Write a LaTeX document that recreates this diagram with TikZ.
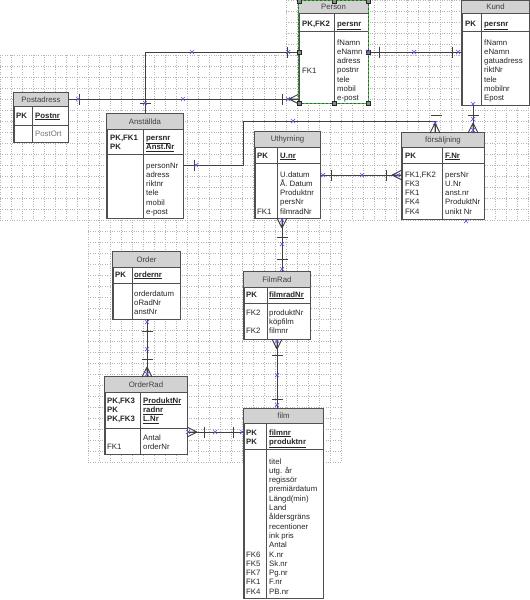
\documentclass[tikz,border=0pt]{standalone}
\usepackage{fontspec}
\setmainfont{Liberation Sans}
\usetikzlibrary{fit}

\definecolor{tblline}{HTML}{505050}
\definecolor{hdrgray}{HTML}{D2D2D2}
\definecolor{gridgray}{HTML}{B4B4B4}
\definecolor{markblue}{HTML}{5A5AE6}
\definecolor{selgreen}{HTML}{22CC22}

\tikzset{
  tblbox/.style={draw=tblline, fill=white, line width=0.9pt, inner sep=0pt},
  tblline/.style={draw=tblline, line width=0.9pt},
  hdrtext/.style={font=\fontsize{7.8}{9.3}\selectfont, text=black!75, inner sep=0pt},
  fld/.style={font=\fontsize{7.8}{9.3}\selectfont, text=black!85, inner sep=0pt, align=left, anchor=base west},
  conn/.style={draw=black!75, line width=0.9pt},
  gridline/.style={draw=gridgray, line width=0.4pt, dash pattern=on 0.8pt off 1.6pt},
  bx/.pic={\draw[draw=markblue, line width=0.7pt] (-2,-2) -- (2,2) (-2,2) -- (2,-2);},
  hdl/.pic={\draw[fill=black!45, draw=black!85, line width=0.5pt] (-2.2,-2.2) rectangle (2.2,2.2);},
  tick/.pic={\draw[conn] (0,-5.5) -- (0,5.5);},
  crow/.pic={\draw[conn] (0,0) -- (10,-5) (0,0) -- (10,0) (0,0) -- (10,5);},
}

% #1 name, #2 left, #3 top, #4 right, #5 header bottom, #6 key bottom, #7 bottom, #8 divider, #9 title
\newcommand{\ertab}[9]{%
  \coordinate (#1-nw) at (#2,#3);
  \coordinate (#1-se) at (#4,#7);
  \node[tblbox, fit=(#1-nw)(#1-se)] (#1) {};
  \fill[hdrgray] (#2,#3) rectangle (#4,#5);
  \draw[tblline] (#2,#5) -- (#4,#5) (#2,#6) -- (#4,#6) (#8,#5) -- (#8,#7);
  \draw[tblline] (#1.north west) rectangle (#1.south east);
  \node[hdrtext] (#1-title) at ({(#2+#4)/2},{(#3+#5)/2}) {#9};
}

\begin{document}
\begin{tikzpicture}[x=1pt,y=-1pt]
  \useasboundingbox (0,0) rectangle (530,600);
  \fill[white] (0,0) rectangle (530,600);

  % grid
  \foreach \gx in {0,11,...,528} \draw[gridline] (\gx,55) -- (\gx,220);
  \foreach \gy in {55,66,...,220} \draw[gridline] (0,\gy) -- (530,\gy);
  \foreach \gx in {286,297,...,462} \draw[gridline] (\gx,0) -- (\gx,55);
  \foreach \gy in {0,11,...,55} \draw[gridline] (286,\gy) -- (462,\gy);
  \foreach \gx in {88,99,...,341} \draw[gridline] (\gx,220) -- (\gx,462);
  \foreach \gy in {231,242,...,462} \draw[gridline] (88,\gy) -- (341,\gy);

  % tables
  \ertab{person}{299}{1}{368}{13}{31}{103}{334}{Person}
  \ertab{kund}{462}{1}{529}{13}{31}{105}{481}{Kund}
  \ertab{postadr}{14}{93}{68}{106}{125}{142}{32}{Postadress}
  \ertab{anst}{107}{114}{183}{129}{154}{218}{143}{Anställda}
  \ertab{uthyr}{255}{132}{320}{147}{163}{218}{277}{Uthyrning}
  \ertab{forsalj}{402}{133}{484}{147}{163}{219}{442}{försäljning}
  \ertab{order}{113}{252}{180}{267}{283}{319}{132}{Order}
  \ertab{filmrad}{244}{272}{310}{287}{303}{339}{267}{FilmRad}
  \ertab{orderrad}{105}{377}{187}{392}{428}{454}{140}{OrderRad}
  \ertab{film}{244}{409}{323}{423}{449}{598}{266}{film}

  % fields (placed at the baseline of their last line)
  \node[fld] (person-pk) at (302,26) {\textbf{PK,FK2}};
  \node[fld] (person-key) at (337,26) {\underline{\textbf{persnr}}};
  \node[fld] (person-attr) at (337,100.8) {fNamn\\eNamn\\adress\\postnr\\tele\\mobil\\e-post};
  \node[fld] (person-fk) at (302,73) {FK1};

  \node[fld] (kund-pk) at (465,26) {\textbf{PK}};
  \node[fld] (kund-key) at (484,26) {\underline{\textbf{persnr}}};
  \node[fld] (kund-attr) at (484,100.8) {fNamn\\eNamn\\gatuadress\\riktNr\\tele\\mobilnr\\Epost};

  \node[fld] (postadr-pk) at (16,118) {\textbf{PK}};
  \node[fld] (postadr-key) at (35,118) {\underline{\textbf{Postnr}}};
  \node[fld, text=black!55] (postadr-attr) at (35,136) {PostOrt};

  \node[fld] (anst-pk) at (110,149.3) {\textbf{PK,FK1}\\\textbf{PK}};
  \node[fld] (anst-key) at (146,149.3) {\underline{\textbf{persnr}}\\\underline{\textbf{Anst.Nr}}};
  \node[fld] (anst-attr) at (146,214.5) {personNr\\adress\\riktnr\\tele\\mobil\\e-post};

  \node[fld] (uthyr-pk) at (257,158) {\textbf{PK}};
  \node[fld] (uthyr-key) at (280,158) {\underline{\textbf{U.nr}}};
  \node[fld] (uthyr-attr) at (280,214.2) {U.datum\\Å. Datum\\Produktnr\\persNr\\filmradNr};
  \node[fld] (uthyr-fk) at (257,214.2) {FK1};

  \node[fld] (forsalj-pk) at (405,158) {\textbf{PK}};
  \node[fld] (forsalj-key) at (445,158) {\underline{\textbf{F.Nr}}};
  \node[fld] (forsalj-fk) at (405,214.2) {FK1,FK2\\FK3\\FK1\\FK4\\FK4};
  \node[fld] (forsalj-attr) at (445,214.2) {persNr\\U.Nr\\anst.nr\\ProduktNr\\unikt Nr};

  \node[fld] (order-pk) at (115,277) {\textbf{PK}};
  \node[fld] (order-key) at (134,277) {\underline{\textbf{ordernr}}};
  \node[fld] (order-attr) at (134,314.6) {orderdatum\\oRadNr\\anstNr};

  \node[fld] (filmrad-pk) at (246,297) {\textbf{PK}};
  \node[fld] (filmrad-key) at (269,297) {\underline{\textbf{filmradNr}}};
  \node[fld] (filmrad-fk) at (246,333.6) {FK2\\[9.3pt]FK2};
  \node[fld] (filmrad-attr) at (269,333.6) {produktNr\\köpfilm\\filmnr};

  \node[fld] (orderrad-pk) at (107,421.6) {\textbf{PK,FK3}\\\textbf{PK}\\\textbf{PK,FK3}};
  \node[fld] (orderrad-key) at (143,421.6) {\underline{\textbf{ProduktNr}}\\\underline{\textbf{radnr}}\\\underline{\textbf{L.Nr}}};
  \node[fld] (orderrad-attr) at (143,449.3) {Antal\\orderNr};
  \node[fld] (orderrad-fk) at (107,449.3) {FK1};

  \node[fld] (film-pk) at (246,444.3) {\textbf{PK}\\\textbf{PK}};
  \node[fld] (film-key) at (269,444.3) {\underline{\textbf{filmnr}}\\\underline{\textbf{produktnr}}};
  \node[fld] (film-attr) at (269,594.2) {titel\\utg. år\\regissör\\premiärdatum\\Längd(min)\\Land\\åldersgräns\\recentioner\\ink pris\\Antal\\K.nr\\Sk.nr\\Pg.nr\\F.nr\\PB.nr};
  \node[fld] (film-fk) at (246,594.2) {FK6\\FK5\\FK7\\FK1\\FK4};

  % connector ends
  \coordinate (p-fk1) at (299,52);
  \coordinate (p-post) at (299,99);
  \coordinate (p-r) at (368,52);
  \coordinate (k-l) at (462,52);
  \coordinate (k-b) at (473,105);
  \coordinate (pa-r) at (68,99);
  \coordinate (an-r) at (183,165);
  \coordinate (an-bend) at (243,121);
  \coordinate (f-anst) at (435,133);
  \coordinate (f-kund) at (473,133);
  \coordinate (f-l) at (402,175);
  \coordinate (u-r) at (320,175);
  \coordinate (u-b) at (282,218);
  \coordinate (fr-t) at (282,272);
  \coordinate (fr-b) at (277,339);
  \coordinate (fi-t) at (277,409);
  \coordinate (fi-l) at (244,432);
  \coordinate (o-b) at (147,319);
  \coordinate (or-t) at (147,377);
  \coordinate (or-r) at (187,432);

  % connectors
  \draw[conn] (anst.north) |- (p-fk1);
  \draw[conn] (pa-r) -- (p-post);
  \draw[conn] (p-r) -- (k-l);
  \draw[conn] (an-r) -| (an-bend) -| (f-anst);
  \draw[conn] (k-b) -- (f-kund);
  \draw[conn] (u-r) -- (f-l);
  \draw[conn] (u-b) -- (fr-t);
  \draw[conn] (fr-b) -- (fi-t);
  \draw[conn] (o-b) -- (or-t);
  \draw[conn] (or-r) -- (fi-l);

  % ends
  \pic[rotate=90] at (145,103) {tick};
  \pic at (287,52) {tick};
  \pic at (79,99) {tick};
  \pic at (282,99) {tick};
  \pic at (289,99) {crow};
  \pic at (379,52) {tick};
  \pic at (452,52) {tick};
  \pic at (194,165) {tick};
  \pic[rotate=90] at (436,115) {tick};
  \pic[rotate=-90] at (435,123) {crow};
  \pic[rotate=90] at (473,115) {tick};
  \pic[rotate=-90] at (473,123) {crow};
  \pic at (331,175) {tick};
  \pic at (386,175) {tick};
  \pic at (392,175) {crow};
  \pic[rotate=90] at (282,228) {crow};
  \pic[rotate=90] at (282,237) {tick};
  \pic[rotate=90] at (282,259) {tick};
  \pic[rotate=90] at (277,349) {crow};
  \pic[rotate=90] at (277,355) {tick};
  \pic[rotate=90] at (277,399) {tick};
  \pic[rotate=90] at (147,331) {tick};
  \pic[rotate=90] at (147,359) {tick};
  \pic[rotate=-90] at (147,367) {crow};
  \pic[rotate=180] at (197,432) {crow};
  \pic at (204,432) {tick};
  \pic at (233,432) {tick};

  % selected table
  \draw[selgreen, line width=0.9pt, dash pattern=on 2pt off 2pt] (person.north west) rectangle (person.south east);
  \foreach \hx/\hy in {299/1,334/1,368/1,299/52,368/52,299/103,334/103,368/103}
    \pic at (\hx,\hy) {hdl};

  % connection points
  \foreach \mx/\my in {368/52,414/52,458/52,192/52,288/52,145/103,78/99,183/99,288/99,
      196/165,293/121,435/123,473/104,473/119,473/130,323/175,362/175,398/175,
      282/220,282/244,282/269,277/341,277/375,277/405,147/322,147/349,147/374,
      188/432,215/432,242/432,466/221}
    \pic at (\mx,\my) {bx};
\end{tikzpicture}
\end{document}
